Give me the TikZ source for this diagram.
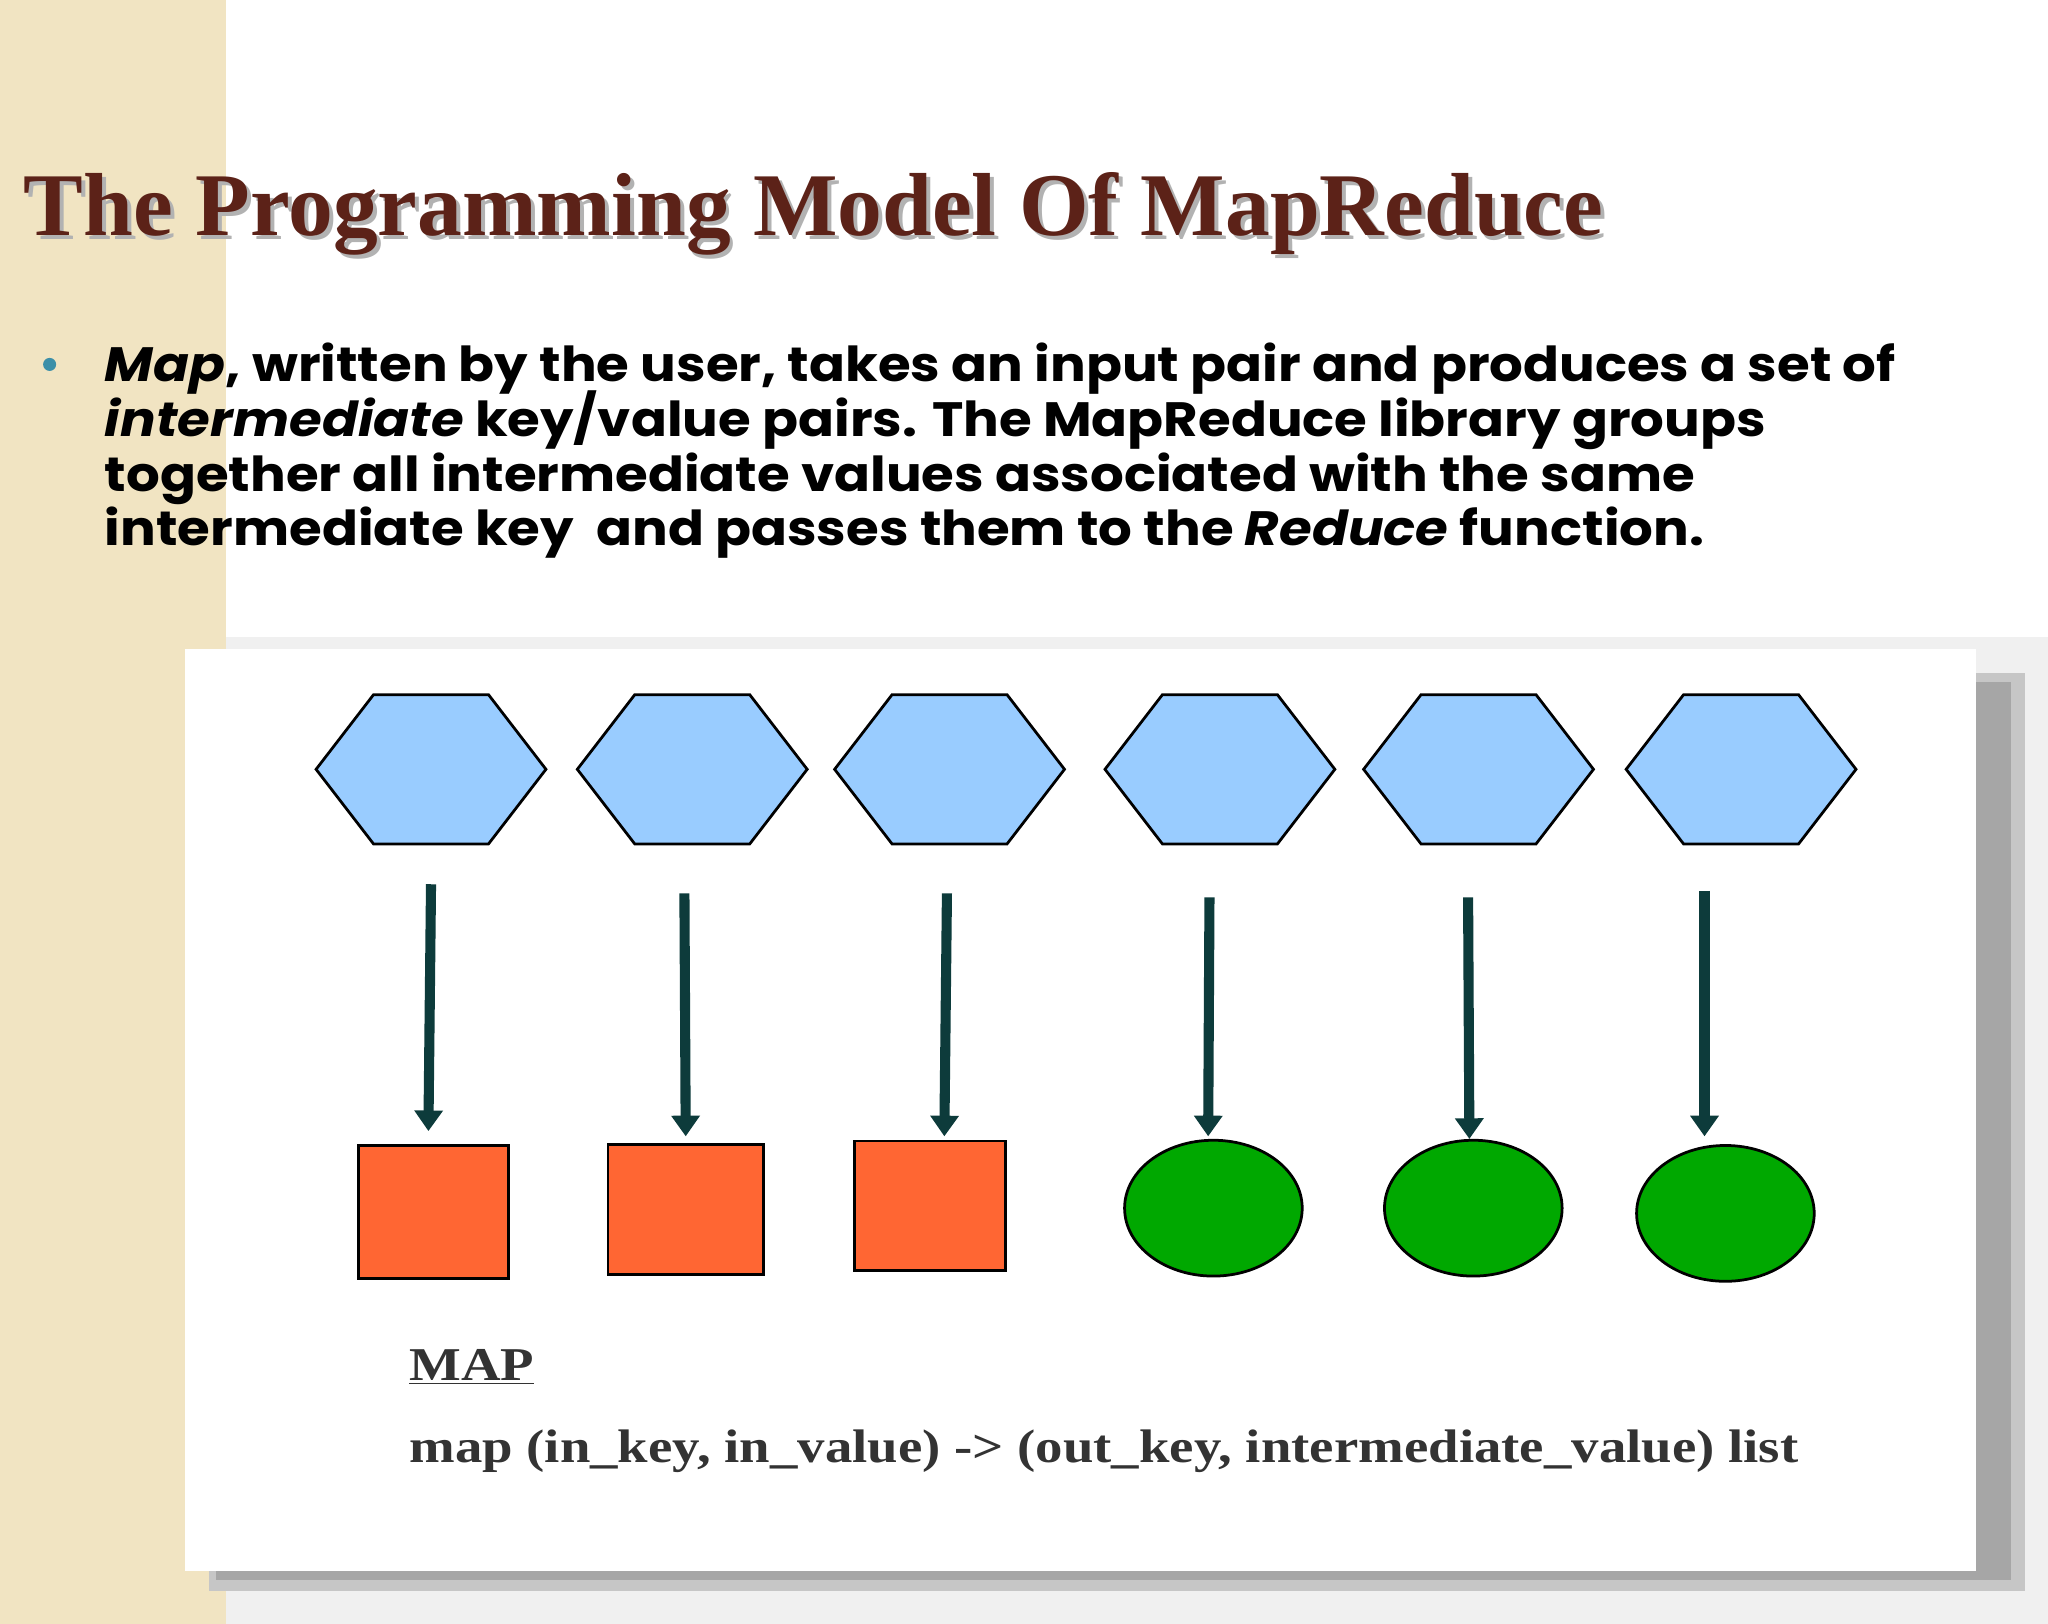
\documentclass[tikz,border=0pt]{standalone}
\usepackage{fontspec}
\setmainfont{Liberation Serif}
\newfontfamily\bodyfont{Poppins}
\usetikzlibrary{shapes.geometric,arrows.meta}
\definecolor{beige}{HTML}{F1E4C2}
\definecolor{titlec}{HTML}{5C2218}
\definecolor{hexc}{HTML}{99CCFF}
\definecolor{sqc}{HTML}{FF6633}
\definecolor{elc}{HTML}{00A800}
\definecolor{arrc}{HTML}{0D3B3B}
\definecolor{bulc}{HTML}{3C8FA8}
\tikzset{
 hexa/.style={regular polygon,regular polygon sides=6,shape border rotate=0,draw=black,line width=1.2pt,fill=hexc,minimum width=176*0.02cm,inner sep=0pt},
 sqbox/.style={draw=black,line width=1.2pt,fill=sqc,inner sep=0pt},
 ell/.style={ellipse,draw=black,line width=1.2pt,fill=elc,minimum width=136*0.02cm,minimum height=104*0.02cm,inner sep=0pt},
 arr/.style={draw=arrc,line width=4.4pt,-{Triangle[length=9pt,width=12pt]}},
 btext/.style={font=\bodyfont\bfseries\fontsize{21}{23.8}\selectfont,anchor=base west,inner sep=0pt,xscale=1.1,transform shape},
 mtext/.style={anchor=base west,inner sep=0pt,text=black!80,font=\bfseries\fontsize{20.5}{22}\selectfont,xscale=1.165,transform shape}
}
\begin{document}
\begin{tikzpicture}[x=0.02cm,y=-0.02cm]
\useasboundingbox (0,0) rectangle (1568,1243);
\fill[white] (0,0) rectangle (1568,1243);
\fill[beige] (0,0) rectangle (173,1243);
\fill[gray!12] (173,488) rectangle (1568,1243);
\fill[gray!45] (160,515) rectangle (1550,1218);
\fill[gray!70] (165,522) rectangle (1540,1210);
\fill[white] (142,497) rectangle (1513,1203);
% title
\node[anchor=base west,inner sep=0pt,text=black!30,font=\bfseries\fontsize{39}{44}\selectfont] at (21,183) {The Programming Model Of MapReduce};
\node[anchor=base west,inner sep=0pt,text=titlec,font=\bfseries\fontsize{39}{44}\selectfont] (title) at (18,180) {The Programming Model Of MapReduce};
% bullet
\fill[bulc] (38,279) circle (5);
\node[btext] (l1) at (80,292) {\itshape Map\upshape, written by the user, takes an input pair and produces a set of};
\node[btext] (l2) at (80,334) {\itshape intermediate\upshape\ key/value pairs. The MapReduce library groups};
\node[btext] (l3) at (80,376) {together all intermediate values associated with the same};
\node[btext] (l4) at (80,418) {intermediate key~~and passes them to the \itshape Reduce\upshape\ function.};
% hexagons
\foreach \n/\x in {1/330,2/530,3/727,4/934,5/1132,6/1333}{
 \node[hexa,yscale=0.75] (h\n) at (\x,589) {};
}
% squares
\node[sqbox,minimum width=115*0.02cm,minimum height=102*0.02cm] (s1) at (332,928) {};
\node[sqbox,minimum width=119*0.02cm,minimum height=99*0.02cm] (s2) at (525,926) {};
\node[sqbox,minimum width=116*0.02cm,minimum height=99*0.02cm] (s3) at (712,923) {};
\node[ell] (e1) at (929,925) {};
\node[ell] (e2) at (1128,925) {};
\node[ell] (e3) at (1321,929) {};
% arrows
\coordinate (a1) at (330,677); \coordinate (b1) at (328,866);
\coordinate (a2) at (524,684); \coordinate (b2) at (525,870);
\coordinate (a3) at (725,684); \coordinate (b3) at (723,870);
\coordinate (a4) at (926,687); \coordinate (b4) at (925,870);
\coordinate (a5) at (1124,687); \coordinate (b5) at (1125,872);
\coordinate (a6) at (1305,682); \coordinate (b6) at (1305,870);
\foreach \i in {1,...,6}{\draw[arr] (a\i) -- (b\i);}
% text
\node[mtext] (map) at (313,1057) {\underline{MAP}};
\node[mtext] (mapf) at (313,1120) {map (in\_key, in\_value) -> (out\_key, intermediate\_value) list};
\end{tikzpicture}
\end{document}
